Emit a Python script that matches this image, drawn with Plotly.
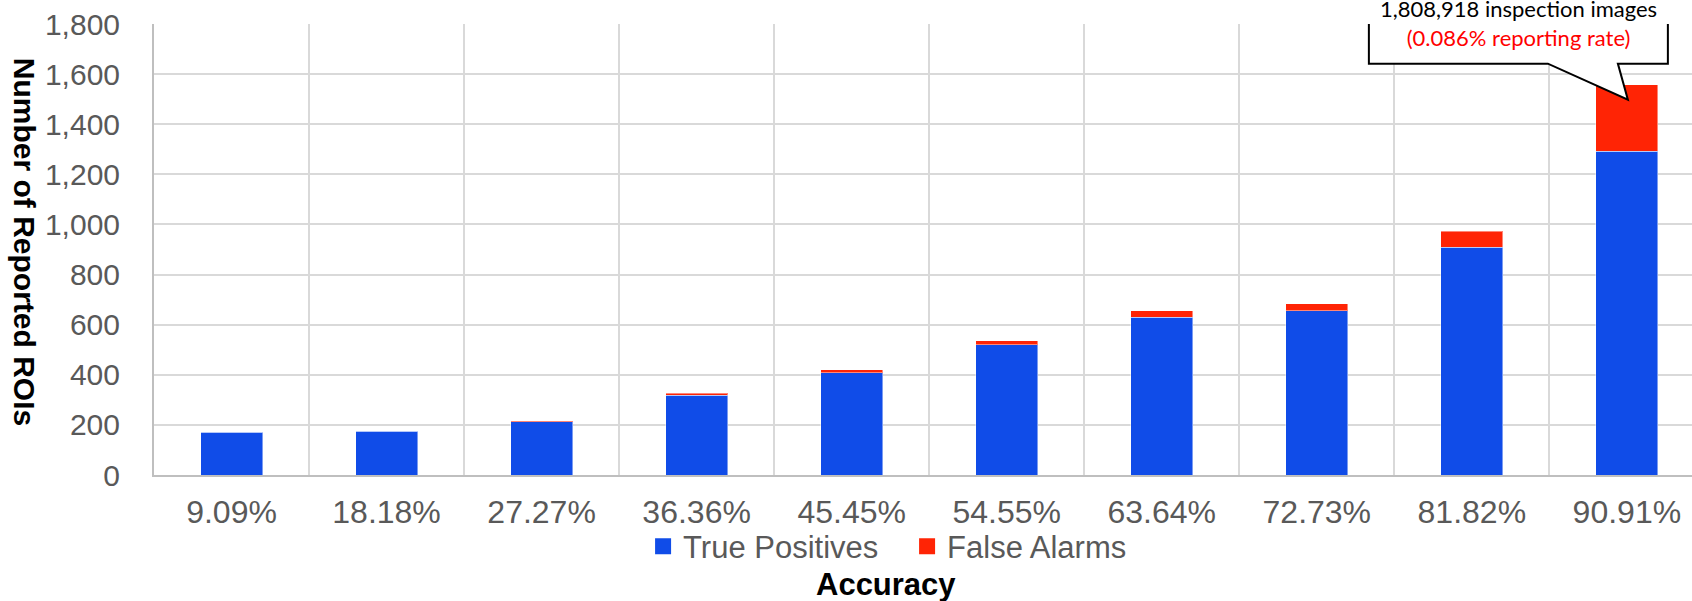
import plotly.graph_objects as go

# Accuracy bins (x categories)
accuracy = ["9.09%", "18.18%", "27.27%", "36.36%", "45.45%",
            "54.55%", "63.64%", "72.73%", "81.82%", "90.91%"]

# Reported ROIs per accuracy bin
true_positives = [170, 175, 213, 319, 408, 520, 629, 656, 909, 1292]
false_alarms = [1, 2, 3, 8, 12, 16, 26, 28, 63, 266]

inspection_images = 1808918

y_ticks = [0, 200, 400, 600, 800, 1000, 1200, 1400, 1600, 1800]

BLUE = "#104CE8"
RED = "#FF2405"
GREY_TEXT = "#595959"
GRID = "#D9D9D9"
FONT = "Liberation Sans, Arial, sans-serif"

fig = go.Figure()
series = [("True Positives", true_positives, BLUE),
          ("False Alarms", false_alarms, RED)]
for name, values, color in series:
    fig.add_trace(go.Bar(
        x=accuracy, y=values, name=name, legendgroup=name, showlegend=False,
        marker=dict(color=color, line=dict(color="rgba(255,255,255,0.45)", width=1)),
    ))
# Legend entries with larger square swatches
for name, values, color in series:
    fig.add_trace(go.Scatter(
        x=[None], y=[None], mode="markers", name=name, legendgroup=name,
        marker=dict(symbol="square", size=16, color=color),
    ))

# Callout on the last bar: speech bubble anchored to the top of the stack
last_total = true_positives[-1] + false_alarms[-1]
rate = last_total / inspection_images * 100
fig.add_shape(
    type="path", xref="x", yref="y",
    xsizemode="pixel", ysizemode="pixel",
    xanchor=len(accuracy) - 1, yanchor=last_total,
    path="M -258 21 L -79 21 L 1 -15 L -9 21 L 41 21 L 41 110 L -258 110 Z",
    line=dict(color="black", width=2), fillcolor="white", layer="above",
)
fig.add_annotation(
    x=len(accuracy) - 1, y=last_total, xref="x", yref="y",
    xshift=-108, yshift=62, showarrow=False,
    text=(f"{inspection_images:,} inspection images<br>"
          f"<span style='color:#FF0000'>({rate:.3f}% reporting rate)</span>"),
    font=dict(family="Lato, Open Sans, sans-serif", size=22, color="black"),
    align="center",
)

# Axis titles
fig.add_annotation(
    x=0.476, y=-0.242, xref="paper", yref="paper", showarrow=False,
    text="<b>Accuracy</b>", font=dict(family=FONT, size=31, color="black"),
    xanchor="center", yanchor="middle",
)
fig.add_annotation(
    x=-0.0845, y=0.517, xref="paper", yref="paper", showarrow=False,
    text="<b>Number of Reported ROIs</b>", textangle=90,
    font=dict(family=FONT, size=30, color="black"),
    xanchor="center", yanchor="middle",
)

fig.update_layout(
    width=1692, height=601,
    margin=dict(l=154, r=0, t=24, b=126),
    barmode="stack", bargap=0.6,
    plot_bgcolor="white", paper_bgcolor="white",
    font=dict(family=FONT, size=30, color=GREY_TEXT),
    legend=dict(
        orientation="h", x=0.318, y=-0.159, xanchor="left", yanchor="middle",
        font=dict(family=FONT, size=31, color=GREY_TEXT),
        bgcolor="rgba(0,0,0,0)", itemsizing="trace", traceorder="normal",
        itemwidth=30, entrywidth=219, entrywidthmode="pixels",
    ),
    showlegend=True,
)
fig.update_xaxes(
    type="category", range=[-0.5, 9.42], tickson="boundaries",
    showgrid=True, gridcolor=GRID, gridwidth=2,
    showline=True, linecolor="#BFBFBF", linewidth=2,
    ticks="", tickfont=dict(family=FONT, size=32, color=GREY_TEXT),
    ticklabelstandoff=8,
)
fig.update_yaxes(
    range=[0, 1800], tickvals=y_ticks, tickformat=",d",
    showgrid=True, gridcolor=GRID, gridwidth=2,
    showline=True, linecolor="#BFBFBF", linewidth=2,
    zeroline=False, ticks="",
    tickfont=dict(family=FONT, size=30, color=GREY_TEXT),
    ticklabelstandoff=26,
)

fig.write_html("out.html")
